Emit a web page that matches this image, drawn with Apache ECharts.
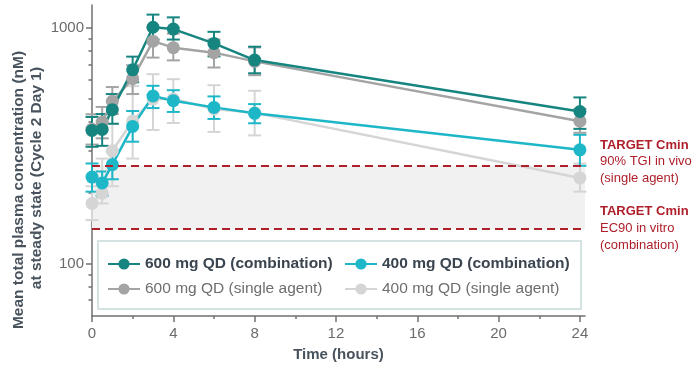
<!DOCTYPE html>
<html>
<head>
<meta charset="utf-8">
<script src="https://cdn.jsdelivr.net/npm/echarts@6/dist/echarts.min.js"></script>
<style>
  html, body { margin: 0; padding: 0; background: #ffffff; }
  #chart { width: 696px; height: 367px; }
</style>
</head>
<body>
<div id="chart"></div>
<script>
// Sampling times (hours after dose)
const timeHours = [0, 0.5, 1, 2, 3, 4, 6, 8, 24];

// Mean plasma concentration (nM) with lower / upper error limits
const comb600Mean = [367, 371, 450, 664, 1006, 988, 859, 730, 442];
const comb600Low  = [313, 316, 392, 588, 892, 892, 757, 642, 373];
const comb600High = [419, 431, 524, 755, 1138, 1108, 962, 832, 507];

const single600Mean = [372, 398, 488, 609, 878, 824, 785, 721, 402];
const single600Low  = [320, 340, 431, 524, 748, 728, 679, 630, 359];
const single600High = [430, 462, 561, 694, 1003, 946, 892, 826, 453];

const comb400Mean = [233, 220, 263, 382, 514, 491, 460, 434, 304];
const comb400Low  = [202, 194, 228, 329, 457, 440, 411, 394, 260];
const comb400High = [266, 246, 299, 444, 568, 544, 512, 475, 352];

const single400Mean = [180, 199, 301, 403, 499, 499, 453, 436, 231];
const single400Low  = [153, 180, 213, 279, 369, 395, 362, 350, 202];
const single400High = [213, 279, 392, 566, 636, 606, 571, 541, 266];

// Target Cmin levels (nM): 90% TGI in vivo, EC90 in vitro
const targetLevels = [260, 140];

// Axis ticks
const xMajorTicks = [0, 4, 8, 12, 16, 20, 24];
const xMinorTicks = [2, 6, 10, 14, 18, 22];
const yMajorTicks = [100, 1000];
const yMinorTicks = [70, 80, 90, 200, 300, 400, 500, 600, 700, 800, 900];

const seriesNames = [
  '600 mg QD (combination)',
  '400 mg QD (combination)',
  '600 mg QD (single agent)',
  '400 mg QD (single agent)'
];
const colors = {
  comb600: '#17857f',
  comb400: '#1db7c8',
  single600: '#a4a4a4',
  single400: '#d5d5d5'
};

function pairs(mean) {
  return timeHours.map((t, i) => [t, mean[i]]);
}
function errRows(low, high) {
  return timeHours.map((t, i) => [t, low[i], high[i]]);
}

function errorSeries(name, low, high, color, z) {
  return {
    type: 'custom',
    name: name + ' SD',
    z: z,
    silent: true,
    data: errRows(low, high),
    encode: { x: 0, y: [1, 2] },
    renderItem: function (params, api) {
      const x = api.value(0);
      const top = api.coord([x, api.value(2)]);
      const bot = api.coord([x, api.value(1)]);
      const w = 6.5;
      const st = { stroke: color, lineWidth: 2 };
      return {
        type: 'group',
        children: [
          { type: 'line', shape: { x1: top[0], y1: top[1], x2: bot[0], y2: bot[1] }, style: st },
          { type: 'line', shape: { x1: top[0] - w, y1: top[1], x2: top[0] + w, y2: top[1] }, style: st },
          { type: 'line', shape: { x1: bot[0] - w, y1: bot[1], x2: bot[0] + w, y2: bot[1] }, style: st }
        ]
      };
    }
  };
}

function lineSeries(name, mean, color, z) {
  return {
    type: 'line',
    name: name,
    z: z,
    data: pairs(mean),
    symbol: 'circle',
    symbolSize: 13,
    showAllSymbol: true,
    lineStyle: { color: color, width: 2.5 },
    itemStyle: { color: color },
    emphasis: { disabled: true }
  };
}

const chart = echarts.init(document.getElementById('chart'), null, { renderer: 'canvas' });

const axisGrey = '#707070';
const labelGrey = '#6b6b6b';
const titleColor = '#48535d';
const targetRed = '#ae1f2a';
const fontStack = 'Liberation Sans, Arial, sans-serif';

function legendBlock(left, names) {
  return {
    left: left,
    top: 256,
    padding: 0,
    orient: 'vertical',
    itemWidth: 32,
    itemHeight: 14,
    itemGap: 9,
    selectedMode: false,
    textStyle: { fontSize: 15.5, lineHeight: 16, fontFamily: fontStack },
    data: [
      { name: names[0], textStyle: { fontWeight: 'bold', color: '#3a4550' } },
      { name: names[1], textStyle: { color: '#6e6e6e' } }
    ]
  };
}

const option = {
  animation: false,
  backgroundColor: '#ffffff',
  textStyle: { fontFamily: fontStack },
  grid: { left: 92, right: 111, top: 5, bottom: 49 },
  xAxis: [
    {
      type: 'value',
      min: 0,
      max: 24.25,
      position: 'bottom',
      splitLine: { show: false },
      axisLine: { show: true, lineStyle: { color: axisGrey, width: 1.5 } },
      axisTick: { show: true, customValues: xMajorTicks, length: 6, lineStyle: { color: axisGrey, width: 1.5 } },
      axisLabel: { customValues: xMajorTicks, color: labelGrey, fontSize: 15, margin: 10 },
      name: 'Time (hours)',
      nameLocation: 'middle',
      nameGap: 31,
      nameTextStyle: { color: titleColor, fontSize: 15, fontWeight: 'bold' }
    },
    {
      type: 'value',
      min: 0,
      max: 24.25,
      position: 'bottom',
      splitLine: { show: false },
      axisLine: { show: false },
      axisTick: { show: true, customValues: xMinorTicks, length: 3, lineStyle: { color: axisGrey, width: 1.5 } },
      axisLabel: { show: false }
    }
  ],
  yAxis: [
    {
      type: 'log',
      logBase: 10,
      min: 60,
      max: 1250,
      position: 'left',
      splitLine: { show: false },
      axisLine: { show: true, lineStyle: { color: axisGrey, width: 1.5 } },
      axisTick: { show: true, customValues: yMajorTicks, length: 6, lineStyle: { color: axisGrey, width: 1.5 } },
      axisLabel: {
        customValues: yMajorTicks,
        color: labelGrey,
        fontSize: 15,
        margin: 8,
        formatter: v => String(Math.round(v))
      }
    },
    {
      type: 'log',
      logBase: 10,
      min: 60,
      max: 1250,
      position: 'left',
      splitLine: { show: false },
      axisLine: { show: false },
      axisTick: { show: true, customValues: yMinorTicks, length: 3.5, lineStyle: { color: axisGrey, width: 1.5 } },
      axisLabel: { show: false }
    }
  ],
  legend: [
    legendBlock(107, [seriesNames[0], seriesNames[2]]),
    legendBlock(344, [seriesNames[1], seriesNames[3]])
  ],
  graphic: [
    {
      type: 'rect',
      z: 3,
      shape: { x: 98, y: 241, width: 483, height: 68 },
      style: { fill: '#ffffff', stroke: '#d4e2e2', lineWidth: 2 }
    },
    {
      type: 'text',
      x: 19, y: 190,
      rotation: Math.PI / 2,
      style: {
        text: 'Mean total plasma concentration (nM)',
        fill: titleColor, fontSize: 15.5, fontWeight: 'bold',
        fontFamily: fontStack,
        align: 'center', verticalAlign: 'middle'
      }
    },
    {
      type: 'text',
      x: 37, y: 178,
      rotation: Math.PI / 2,
      style: {
        text: 'at steady state (Cycle 2 Day 1)',
        fill: titleColor, fontSize: 15.5, fontWeight: 'bold',
        fontFamily: fontStack,
        align: 'center', verticalAlign: 'middle'
      }
    },
    {
      type: 'text',
      x: 600, y: 137,
      style: {
        text: '{b|TARGET Cmin}\n90% TGI in vivo\n(single agent)',
        fill: targetRed, fontSize: 13, lineHeight: 16.6,
        fontFamily: fontStack,
        rich: { b: { fontWeight: 'bold', fontSize: 13, fill: targetRed, lineHeight: 16.6 } }
      }
    },
    {
      type: 'text',
      x: 600, y: 203.5,
      style: {
        text: '{b|TARGET Cmin}\nEC90 in vitro\n(combination)',
        fill: targetRed, fontSize: 13, lineHeight: 16.6,
        fontFamily: fontStack,
        rich: { b: { fontWeight: 'bold', fontSize: 13, fill: targetRed, lineHeight: 16.6 } }
      }
    }
  ],
  series: [
    {
      type: 'line',
      name: 'targets',
      data: [],
      silent: true,
      markArea: {
        silent: true,
        itemStyle: { color: '#f1f1f1' },
        data: [[{ yAxis: targetLevels[1] }, { yAxis: targetLevels[0] }]]
      },
      markLine: {
        silent: true,
        symbol: 'none',
        label: { show: false },
        lineStyle: { color: targetRed, width: 2, type: [8, 5] },
        data: targetLevels.map(v => ({ yAxis: v }))
      }
    },
    errorSeries(seriesNames[3], single400Low, single400High, colors.single400, 2),
    lineSeries(seriesNames[3], single400Mean, colors.single400, 2),
    errorSeries(seriesNames[2], single600Low, single600High, colors.single600, 2),
    lineSeries(seriesNames[2], single600Mean, colors.single600, 2),
    errorSeries(seriesNames[1], comb400Low, comb400High, colors.comb400, 2),
    lineSeries(seriesNames[1], comb400Mean, colors.comb400, 2),
    errorSeries(seriesNames[0], comb600Low, comb600High, colors.comb600, 2),
    lineSeries(seriesNames[0], comb600Mean, colors.comb600, 2)
  ]
};

chart.setOption(option);
</script>
</body>
</html>
